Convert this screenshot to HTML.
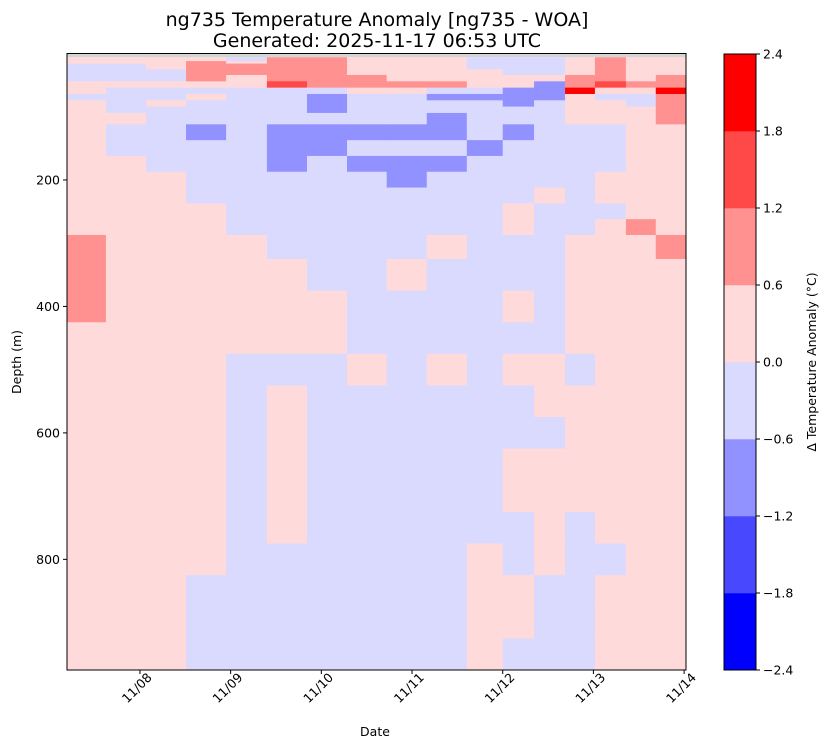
<!DOCTYPE html>
<html><head><meta charset="utf-8">
<style>
html,body{margin:0;padding:0;background:#fff;}
svg{display:block;font-family:"DejaVu Sans","Liberation Sans",sans-serif;}
</style></head>
<body>
<svg id="chart" width="828" height="748" viewBox="0 0 828 748" xmlns="http://www.w3.org/2000/svg">
<text x="377" y="26" text-anchor="middle" font-size="19">ng735 Temperature Anomaly [ng735 - WOA]</text>
<text x="377" y="47" text-anchor="middle" font-size="19">Generated: 2025-11-17 06:53 UTC</text>
<g id="cells"></g>
<g id="axes"></g>
<g id="cbar"></g>
<text x="375" y="736" text-anchor="middle" font-size="12.5">Date</text>
<text transform="translate(21,362) rotate(-90)" text-anchor="middle" font-size="12.5">Depth (m)</text>
<text transform="translate(816,362) rotate(-90)" text-anchor="middle" font-size="12.5">Δ Temperature Anomaly (°C)</text>
</svg>
<script>
// time bin edges, hours relative to 11/08 00:00
const timeEdges = [-19.3,-9,1.6,12.2,22.8,33.6,44.2,54.8,65.3,75.9,86.5,96.0,104.3,112.5,120.4,128.6,136.5,144.5];
// depth bin edges (m); first bin (0-6) has no data
const depthEdges = [0,6,12,16,25,34,44,54,64,74,84,94,112,137,162,187,212,237,262,287,325,375,425,475,525,575,625,675,725,775,825,875,925,975];
// anomaly values per time column, rows from depth 6 m downward
const col0 = [.3,.3,-.3,-.3,-.3,.3,.3,-.3,.3,.3,.3,.3,.3,.3,.3,.3,.3,.3,.9,.9,.9,.3,.3,.3,.3,.3,.3,.3,.3,.3,.3,.3];
const col1 = [.3,.3,-.3,-.3,-.3,.3,-.3,-.3,-.3,-.3,.3,-.3,-.3,.3,.3,.3,.3,.3,.3,.3,.3,.3,.3,.3,.3,.3,.3,.3,.3,.3,.3,.3];
const col2 = [.3,.3,.3,-.3,-.3,.3,-.3,-.3,.3,-.3,-.3,-.3,-.3,-.3,.3,.3,.3,.3,.3,.3,.3,.3,.3,.3,.3,.3,.3,.3,.3,.3,.3,.3];
const col3 = [.3,.9,.9,.9,.9,.3,-.3,.3,-.3,-.3,-.3,-.9,-.3,-.3,-.3,-.3,.3,.3,.3,.3,.3,.3,.3,.3,.3,.3,.3,.3,.3,-.3,-.3,-.3];
const col4 = [-.3,.3,.9,.9,.3,.3,-.3,-.3,-.3,-.3,-.3,-.3,-.3,-.3,-.3,-.3,-.3,-.3,.3,.3,.3,.3,-.3,-.3,-.3,-.3,-.3,-.3,-.3,-.3,-.3,-.3];
const col5 = [.9,.9,.9,.9,.9,1.5,-.3,-.3,-.3,-.3,-.3,-.9,-.9,-.9,-.3,-.3,-.3,-.3,-.3,.3,.3,.3,-.3,.3,.3,.3,.3,.3,-.3,-.3,-.3,-.3];
const col6 = [.9,.9,.9,.9,.9,.9,-.3,-.9,-.9,-.9,-.3,-.9,-.9,-.3,-.3,-.3,-.3,-.3,-.3,-.3,.3,.3,-.3,-.3,-.3,-.3,-.3,-.3,-.3,-.3,-.3,-.3];
const col7 = [.3,.3,.3,.3,.9,.9,.3,-.3,-.3,-.3,-.3,-.9,-.3,-.9,-.3,-.3,-.3,-.3,-.3,-.3,-.3,-.3,.3,-.3,-.3,-.3,-.3,-.3,-.3,-.3,-.3,-.3];
const col8 = [.3,.3,.3,.3,.3,.9,.3,-.3,-.3,-.3,-.3,-.9,-.3,-.9,-.9,-.3,-.3,-.3,-.3,.3,-.3,-.3,-.3,-.3,-.3,-.3,-.3,-.3,-.3,-.3,-.3,-.3];
const col9 = [.3,.3,.3,.3,.3,.9,-.3,-.9,-.3,-.3,-.9,-.9,-.3,-.9,-.3,-.3,-.3,-.3,.3,-.3,-.3,-.3,.3,-.3,-.3,-.3,-.3,-.3,-.3,-.3,-.3,-.3];
const col10 = [-.3,-.3,-.3,.3,.3,.3,-.3,-.9,-.3,-.3,-.3,-.3,-.9,-.3,-.3,-.3,-.3,-.3,-.3,-.3,-.3,-.3,-.3,-.3,-.3,-.3,-.3,-.3,.3,.3,.3,.3];
const col11 = [-.3,-.3,-.3,-.3,.3,.3,-.9,-.9,-.9,-.3,-.3,-.9,-.3,-.3,-.3,-.3,.3,.3,-.3,-.3,.3,-.3,.3,-.3,-.3,.3,.3,-.3,-.3,.3,.3,-.3];
const col12 = [-.3,-.3,-.3,-.3,.3,-.9,-.9,-.9,-.3,-.3,-.3,-.3,-.3,-.3,-.3,.3,-.3,-.3,-.3,-.3,-.3,-.3,.3,.3,-.3,.3,.3,.3,.3,-.3,-.3,-.3];
const col13 = [.3,.3,.3,.3,.9,.9,2.1,.3,.3,.3,.3,-.3,-.3,-.3,-.3,-.3,-.3,-.3,.3,.3,.3,.3,-.3,.3,.3,.3,.3,-.3,-.3,-.3,-.3,-.3];
const col14 = [.9,.9,.9,.9,.9,1.5,.3,-.3,.3,.3,.3,-.3,-.3,-.3,.3,.3,-.3,.3,.3,.3,.3,.3,.3,.3,.3,.3,.3,.3,-.3,.3,.3,.3];
const col15 = [.3,.3,.3,.3,.3,.9,.3,-.3,-.3,.3,.3,.3,.3,.3,.3,.3,.3,.9,.3,.3,.3,.3,.3,.3,.3,.3,.3,.3,.3,.3,.3,.3];
const col16 = [.3,.3,.3,.3,.9,.9,2.1,.9,.9,.9,.9,.3,.3,.3,.3,.3,.3,.3,.9,.3,.3,.3,.3,.3,.3,.3,.3,.3,.3,.3,.3,.3];
const columns = [col0,col1,col2,col3,col4,col5,col6,col7,col8,col9,col10,col11,col12,col13,col14,col15,col16];
const levels = [-2.4,-1.8,-1.2,-0.6,0,0.6,1.2,1.8,2.4];
const levelColors = ["#0000ff","#4848ff","#9191ff","#dadaff","#ffdada","#ff9191","#ff4848","#ff0000"];
const yTicks = [200,400,600,800];
const xTickLabels = ["11/08","11/09","11/10","11/11","11/12","11/13","11/14"];
const xTickHours = [0,24,48,72,96,120,144];

const NS="http://www.w3.org/2000/svg";
const PX0=67,PX1=686,PY0=53.5,PY1=670;
const tMin=timeEdges[0],tMax=timeEdges[timeEdges.length-1];
function xs(h){return PX0+(h-tMin)/(tMax-tMin)*(PX1-PX0);}
function ys(d){return PY0+d/975*(PY1-PY0);}
function colorFor(v){for(let i=0;i<8;i++){if(v<levels[i+1])return levelColors[i];}return levelColors[7];}
function mk(tag,attrs,parent){const e=document.createElementNS(NS,tag);for(const k in attrs)e.setAttribute(k,attrs[k]);parent.appendChild(e);return e;}

const cells=document.getElementById('cells');
const gray=mk('rect',{x:PX0,y:ys(depthEdges[0]),width:PX1-PX0,height:ys(depthEdges[1])-ys(depthEdges[0]),fill:'#d4d4d4'},cells);


columns.forEach((col,ci)=>{
  const xa=xs(timeEdges[ci]),xb=xs(timeEdges[ci+1]);
  col.forEach((v,ri)=>{
    const ya=ys(depthEdges[ri+1]),yb=ys(depthEdges[ri+2]);
    const r=mk('rect',{x:xa.toFixed(2),y:ya.toFixed(2),width:(xb-xa+0.5).toFixed(2),height:(yb-ya+0.5).toFixed(2),fill:colorFor(v)},cells);
    
    
  });
});

const axes=document.getElementById('axes');
const frame=mk('rect',{x:PX0,y:PY0,width:PX1-PX0,height:PY1-PY0,fill:'none',stroke:'#000','stroke-width':1},axes);


yTicks.forEach(t=>{
  const y=ys(t);
  mk('line',{x1:PX0-4,x2:PX0,y1:y,y2:y,stroke:'#000'},axes);
  const tx=mk('text',{x:PX0-7,y:y+4.5,'text-anchor':'end','font-size':12.5},axes);
  tx.textContent=t;
  
  
});
xTickHours.forEach((h,i)=>{
  const x=xs(h);
  mk('line',{x1:x,x2:x,y1:PY1,y2:PY1+4,stroke:'#000'},axes);
  const tx=mk('text',{transform:`translate(${x},${PY1+21}) rotate(-45)`,'text-anchor':'middle','font-size':12.5},axes);
  tx.textContent=xTickLabels[i];
  
  
});

const cb=document.getElementById('cbar');
const CX0=724,CX1=756,CY0=54,CY1=670;
function cy(v){return CY1-(v-levels[0])/(levels[8]-levels[0])*(CY1-CY0);}
for(let i=0;i<8;i++){
  const r=mk('rect',{x:CX0,y:cy(levels[i+1]),width:CX1-CX0,height:cy(levels[i])-cy(levels[i+1])+0.3,fill:levelColors[i]},cb);
  
  
}
mk('rect',{x:CX0,y:CY0,width:CX1-CX0,height:CY1-CY0,fill:'none',stroke:'#000'},cb);
levels.forEach(v=>{
  const y=cy(v);
  mk('line',{x1:CX1,x2:CX1+4,y1:y,y2:y,stroke:'#000'},cb);
  const tx=mk('text',{x:CX1+7,y:y+4.5,'font-size':12.5},cb);
  tx.textContent=(v<0?'\u2212':'')+Math.abs(v).toFixed(1);
  
  
});
</script>
</body></html>
